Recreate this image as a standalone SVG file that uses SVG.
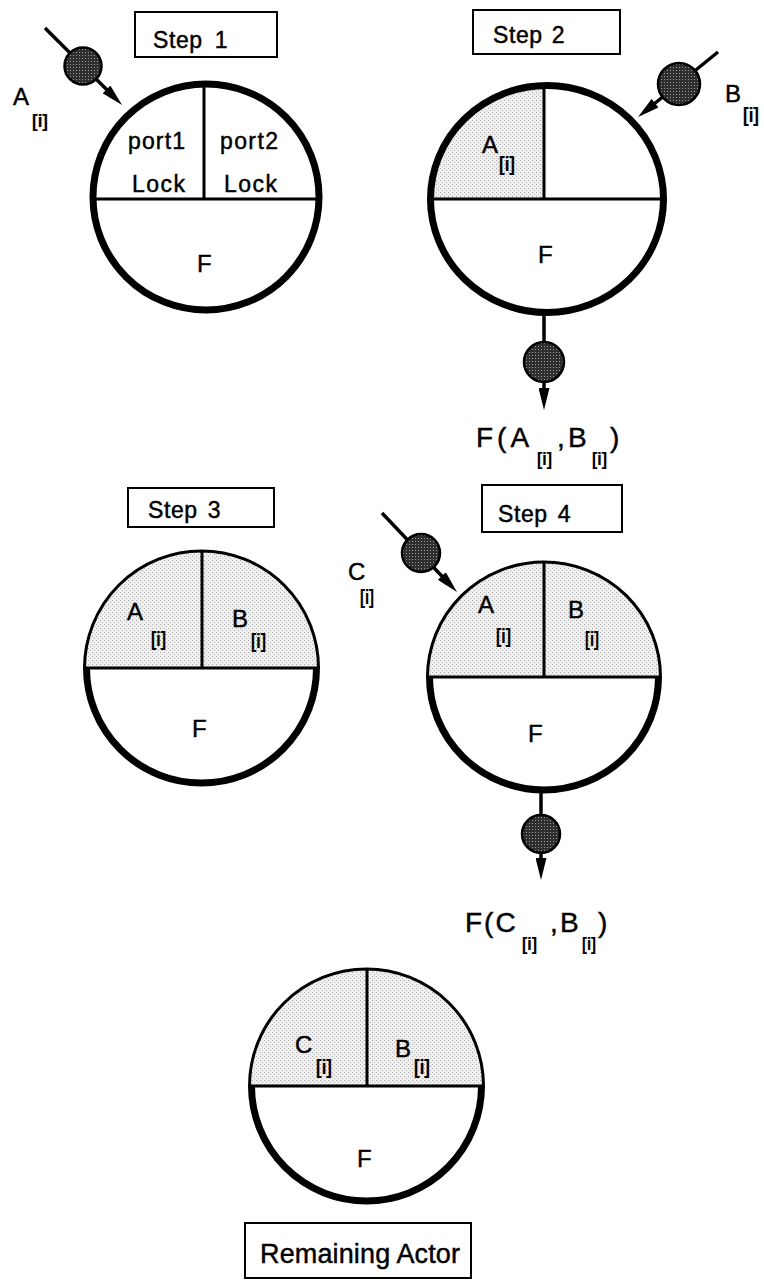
<svg xmlns="http://www.w3.org/2000/svg" width="764" height="1282" viewBox="0 0 764 1282">
  <style>
    text { font-family: "Liberation Sans", Arial, Helvetica, sans-serif; fill: #000; stroke: #000; stroke-width: 0.45px; }
    .t { font-size: 24px; }
    .step { font-size: 23px; letter-spacing: 0.6px; }
    .cell { font-size: 23px; }
    .res { font-size: 27px; }
    .big { font-size: 28px; }
    .sub { font-size: 21px; font-weight: bold; stroke-width: 0.2px; letter-spacing: 0; }
    .subs { font-size: 18px; font-weight: bold; stroke-width: 0.2px; letter-spacing: 0; }
    .box { fill: #fff; stroke: #000; stroke-width: 2; }
    .rim { fill: none; stroke: #000; stroke-width: 7; }
    .rim-thin { fill: none; stroke: #000; stroke-width: 3; }
    .div { stroke: #000; stroke-width: 3; fill: none; }
    .shade { fill: url(#stipple); }
    .wire { stroke: #000; stroke-width: 3.5; fill: none; marker-end: url(#arrow); }
    .token { fill: url(#tokenDots); stroke: #000; stroke-width: 2.5; }
  </style>
  <defs>
    <pattern id="stipple" width="4" height="4" patternUnits="userSpaceOnUse">
      <rect width="4" height="4" fill="#efefef"/>
      <rect x="0" y="0" width="1" height="1" fill="#a8a8a8"/>
      <rect x="2" y="2" width="1" height="1" fill="#bcbcbc"/>
    </pattern>
    <pattern id="tokenDots" width="3" height="3" patternUnits="userSpaceOnUse">
      <rect width="3" height="3" fill="#2e2e2e"/>
      <rect x="1" y="1" width="1" height="1" fill="#9a9a9a"/>
    </pattern>
    <marker id="arrow" markerUnits="userSpaceOnUse" markerWidth="22" markerHeight="11" refX="3" refY="5.5" orient="auto">
      <path d="M0,0 L22,5.5 L0,11 z" fill="#000"/>
    </marker>
    <clipPath id="clip2"><ellipse cx="547" cy="199" rx="117" ry="114"/></clipPath>
    <clipPath id="clip3"><ellipse cx="201.5" cy="668" rx="117" ry="117"/></clipPath>
    <clipPath id="clip4"><ellipse cx="544" cy="677" rx="116.5" ry="115"/></clipPath>
    <clipPath id="clip5"><ellipse cx="366.5" cy="1086" rx="117" ry="117"/></clipPath>
  </defs>

  <rect width="764" height="1282" fill="#fff"/>

  <!-- step captions -->
  <g id="label-step1">
    <rect class="box" x="135" y="12" width="142" height="45"/>
    <text class="step" x="153" y="48" word-spacing="5">Step 1</text>
  </g>
  <g id="label-step2">
    <rect class="box" x="473" y="10" width="147" height="44"/>
    <text class="step" x="493" y="43" word-spacing="2">Step 2</text>
  </g>
  <g id="label-step3">
    <rect class="box" x="128" y="488" width="146" height="39"/>
    <text class="step" x="148" y="518" word-spacing="3">Step 3</text>
  </g>
  <g id="label-step4">
    <rect class="box" x="482" y="485" width="140" height="47"/>
    <text class="step" x="498" y="522" word-spacing="3">Step 4</text>
  </g>
  <g id="label-remaining">
    <rect class="box" x="245" y="1223" width="226" height="55"/>
    <text class="res" x="260" y="1263" textLength="200">Remaining Actor</text>
  </g>

  <!-- actor, step 1: both ports empty -->
  <g id="actor-step1">
    <line class="div" x1="93" y1="199" x2="319" y2="199"/>
    <line class="div" x1="204" y1="84" x2="204" y2="199"/>
    <ellipse class="rim" cx="206" cy="197" rx="113" ry="113"/>
    <text class="cell" x="128" y="149" textLength="57">port1</text>
    <text class="cell" x="132" y="192" textLength="53">Lock</text>
    <text class="cell" x="220" y="149" textLength="58">port2</text>
    <text class="cell" x="224" y="192" textLength="53">Lock</text>
    <text class="t" x="197" y="272">F</text>
  </g>

  <!-- actor, step 2: port1 holds A -->
  <g id="actor-step2">
    <rect class="shade" clip-path="url(#clip2)" x="427" y="82" width="117" height="117"/>
    <line class="div" x1="430" y1="199" x2="664" y2="199"/>
    <line class="div" x1="544" y1="86" x2="544" y2="199"/>
    <ellipse class="rim" cx="547" cy="199" rx="116.5" ry="113.5" stroke-width="6.5"/>
    <text class="t" x="482" y="153">A<tspan class="sub" x="499" y="171" textLength="16" lengthAdjust="spacingAndGlyphs">[i]</tspan></text>
    <text class="t" x="538" y="263">F</text>
  </g>

  <!-- actor, step 3: both ports full -->
  <g id="actor-step3">
    <rect class="shade" clip-path="url(#clip3)" x="83" y="549" width="237" height="119"/>
    <line class="div" x1="85" y1="668" x2="318" y2="668"/>
    <line class="div" x1="202" y1="551" x2="202" y2="668"/>
    <path class="rim-thin" d="M84.5,668 A117,117 0 0 1 318.5,668"/>
    <path class="rim" d="M316.5,668 A115,115 0 0 1 86.5,668"/>
    <text class="t" x="127" y="620">A<tspan class="sub" x="151" y="646" textLength="15" lengthAdjust="spacingAndGlyphs">[i]</tspan></text>
    <text class="t" x="232" y="627">B<tspan class="sub" x="251" y="648" textLength="15" lengthAdjust="spacingAndGlyphs">[i]</tspan></text>
    <text class="t" x="192" y="737">F</text>
  </g>

  <!-- actor, step 4 -->
  <g id="actor-step4">
    <rect class="shade" clip-path="url(#clip4)" x="426" y="560" width="236" height="117"/>
    <line class="div" x1="428" y1="677" x2="660" y2="677"/>
    <line class="div" x1="544" y1="562" x2="544" y2="677"/>
    <path class="rim-thin" d="M427.5,677 A116.5,115 0 0 1 660.5,677"/>
    <path class="rim" d="M658.5,677 A114.5,113 0 0 1 429.5,677"/>
    <text class="t" x="478" y="613">A<tspan class="sub" x="496" y="643" textLength="15" lengthAdjust="spacingAndGlyphs">[i]</tspan></text>
    <text class="t" x="568" y="618">B<tspan class="sub" x="585" y="646" textLength="14" lengthAdjust="spacingAndGlyphs">[i]</tspan></text>
    <text class="t" x="528" y="742">F</text>
  </g>

  <!-- remaining actor -->
  <g id="actor-remaining">
    <rect class="shade" clip-path="url(#clip5)" x="248" y="967" width="237" height="119"/>
    <line class="div" x1="250" y1="1086" x2="483" y2="1086"/>
    <line class="div" x1="367" y1="969" x2="367" y2="1086"/>
    <path class="rim-thin" d="M249.5,1086 A117,117 0 0 1 483.5,1086"/>
    <path class="rim" d="M481.5,1086 A115,115 0 0 1 251.5,1086"/>
    <text class="t" x="295" y="1053">C<tspan class="sub" x="316" y="1074" textLength="16" lengthAdjust="spacingAndGlyphs">[i]</tspan></text>
    <text class="t" x="395" y="1057">B<tspan class="sub" x="414" y="1074" textLength="16" lengthAdjust="spacingAndGlyphs">[i]</tspan></text>
    <text class="t" x="357" y="1167">F</text>
  </g>

  <!-- token flows -->
  <g id="connectors">
    <line class="wire" x1="45" y1="28" x2="108.6" y2="91.6"/>
    <circle class="token" cx="83" cy="66" r="18.5"/>

    <line class="wire" x1="718" y1="52" x2="652.8" y2="105"/>
    <circle class="token" cx="679" cy="84" r="21"/>

    <line class="wire" x1="544" y1="313" x2="544" y2="391"/>
    <circle class="token" cx="544" cy="362" r="20"/>

    <line class="wire" x1="382" y1="513" x2="443.9" y2="578.2"/>
    <circle class="token" cx="421" cy="553" r="19"/>

    <line class="wire" x1="541" y1="792" x2="541" y2="861"/>
    <circle class="token" cx="541" cy="834" r="19"/>
  </g>

  <!-- token labels -->
  <g id="token-labels">
    <text class="t" x="13" y="105">A<tspan class="subs" x="32" y="127" textLength="16" lengthAdjust="spacingAndGlyphs">[i]</tspan></text>
    <text class="t" x="725" y="102">B<tspan class="sub" x="743" y="122" textLength="16" lengthAdjust="spacingAndGlyphs">[i]</tspan></text>
    <text class="t" x="348" y="580">C<tspan class="sub" x="360" y="604" textLength="14" lengthAdjust="spacingAndGlyphs">[i]</tspan></text>
    <text class="big" x="476" y="447"><tspan letter-spacing="4">F(A</tspan><tspan class="subs" x="537" y="465" textLength="15" lengthAdjust="spacingAndGlyphs">[i]</tspan><tspan x="557" y="447">,</tspan><tspan x="568" y="447">B</tspan><tspan class="subs" x="592" y="465" textLength="15" lengthAdjust="spacingAndGlyphs">[i]</tspan><tspan x="610" y="447">)</tspan></text>
    <text class="big" x="465" y="932"><tspan letter-spacing="2">F(C</tspan><tspan class="subs" x="522" y="950" textLength="15" lengthAdjust="spacingAndGlyphs">[i]</tspan><tspan x="550" y="932">,</tspan><tspan x="560" y="932">B</tspan><tspan class="subs" x="582" y="950" textLength="14" lengthAdjust="spacingAndGlyphs">[i]</tspan><tspan x="598" y="932">)</tspan></text>
  </g>
</svg>
